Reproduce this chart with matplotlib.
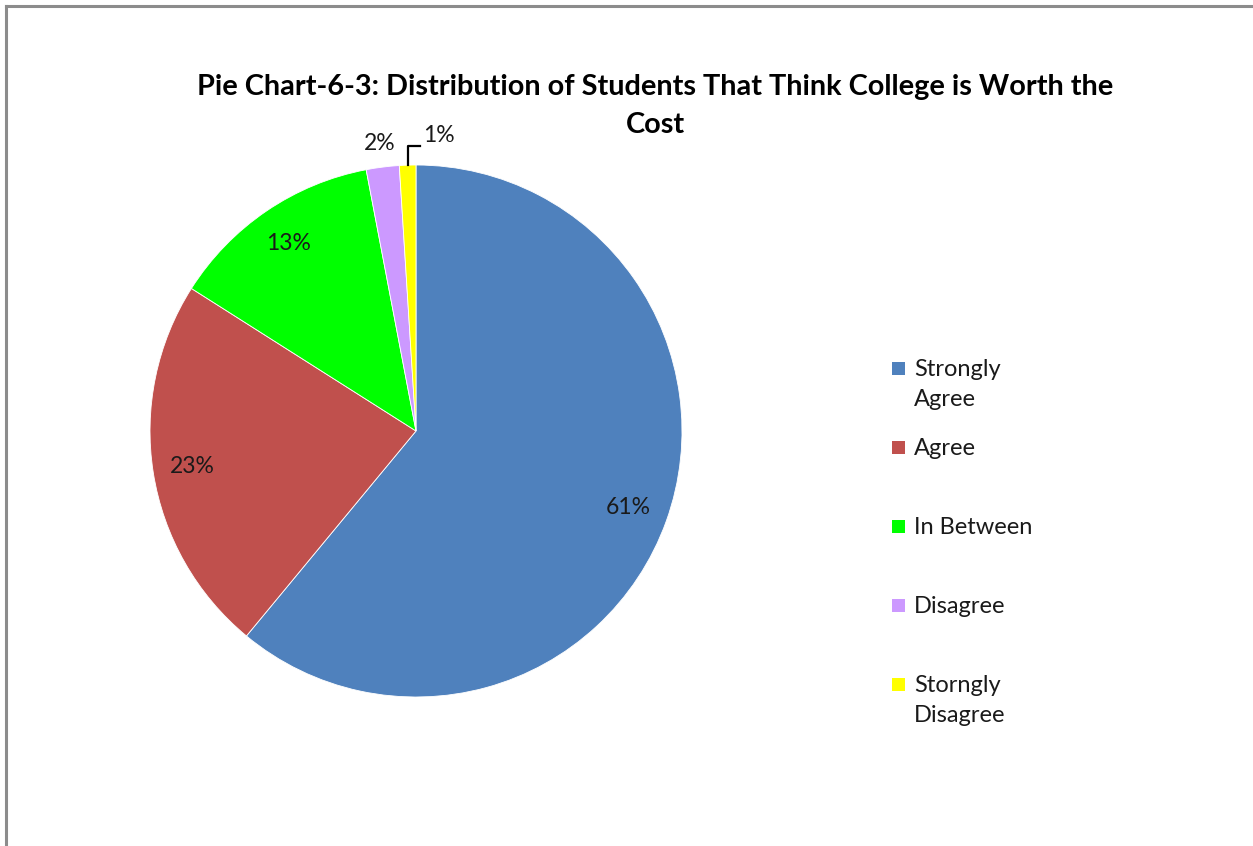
import numpy as np
import matplotlib.pyplot as plt
from matplotlib.lines import Line2D
from matplotlib.patches import Rectangle

labels = ['Strongly\nAgree', 'Agree', 'In Between', 'Disagree', 'Storngly\nDisagree']
shares = [61, 23, 13, 2, 1]
colors = ['#4F81BD', '#C0504D', '#00FF00', '#CC99FF', '#FFFF00']

W, H = 1253, 846
plt.rcParams['font.family'] = ['Lato', 'DejaVu Sans']

fig = plt.figure(figsize=(W / 100, H / 100), dpi=100)

# grey chart-area frame (only top and left edges show)
fig.add_artist(Line2D([6 / W, 1], [1 - 6 / H, 1 - 6 / H], color='#8c8c8c', lw=2.2,
                      transform=fig.transFigure))
fig.add_artist(Line2D([6 / W, 6 / W], [0, 1 - 6 / H], color='#8c8c8c', lw=2.2,
                      transform=fig.transFigure))

fig.text(655 / W, 1 - 87 / H, 'Pie Chart-6-3: Distribution of Students That Think College is Worth the',
         ha='center', va='center', fontsize=20.8, fontweight='bold')
fig.text(655 / W, 1 - 125 / H, 'Cost', ha='center', va='center', fontsize=20.8, fontweight='bold')

cx, cy, r = 416, 431, 266
ax = fig.add_axes([(cx - r) / W, (H - cy - r) / H, 2 * r / W, 2 * r / H])
wedges, _ = ax.pie(shares, colors=colors, startangle=90, counterclock=False, radius=1,
                   wedgeprops=dict(edgecolor='white', linewidth=0.6))
ax.set_xlim(-1, 1)
ax.set_ylim(-1, 1)
ax.set_aspect('auto')
ax.axis('off')

fs = 16.5
for i, (w, s) in enumerate(zip(wedges, shares)):
    mid = np.deg2rad((w.theta1 + w.theta2) / 2)
    txt = '%d%%' % s
    if s >= 10:
        ax.text(0.85 * np.cos(mid), 0.85 * np.sin(mid), txt, ha='center', va='center',
                fontsize=fs, color='#1a1a1a')
    elif i == 3:
        ax.text(1.09 * np.cos(mid), 1.09 * np.sin(mid), txt, ha='center', va='center',
                fontsize=fs, color='#1a1a1a')
    else:
        x0, y0 = np.cos(mid), np.sin(mid)
        ax.plot([x0, x0, x0 + 0.045], [y0, y0 + 0.072, y0 + 0.072], color='black', lw=1.6,
                clip_on=False)
        ax.text(x0 + 0.06, y0 + 0.11, txt, ha='left', va='center', fontsize=fs, color='#1a1a1a')

# legend column on the right
for k, (lab, c) in enumerate(zip(labels, colors)):
    ty = 369 + 79 * k
    fig.add_artist(Rectangle((892 / W, 1 - (ty + 6) / H), 13 / W, 13 / H, facecolor=c,
                             edgecolor='none', transform=fig.transFigure))
    fig.text(914 / W, 1 - (ty - 10) / H, lab, ha='left', va='top', fontsize=17,
             color='#1a1a1a', linespacing=1.55)

fig.savefig('out.png', dpi=100)
